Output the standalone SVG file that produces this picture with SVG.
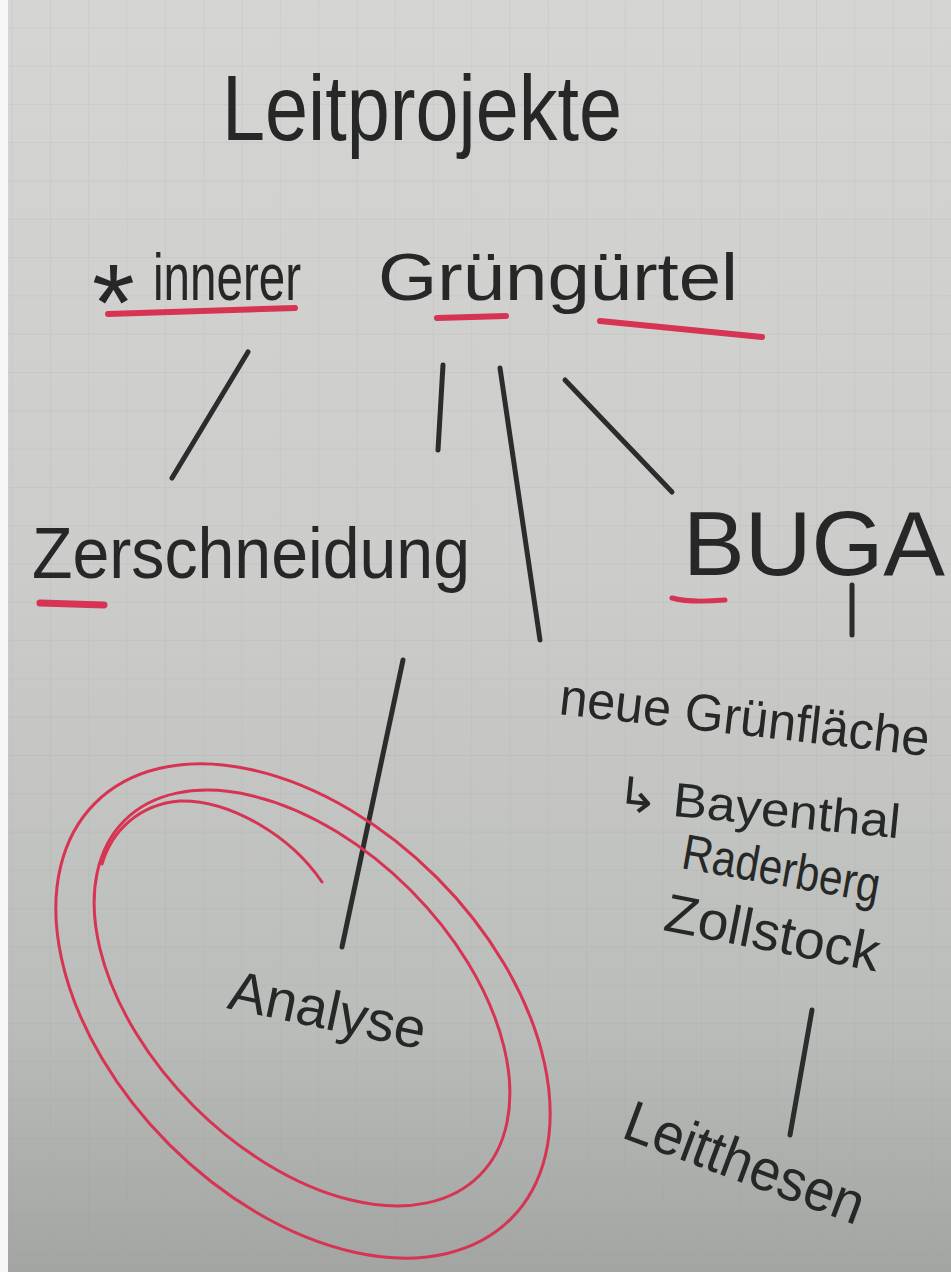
<svg xmlns="http://www.w3.org/2000/svg" width="951" height="1272" viewBox="0 0 951 1272">
<defs>
<linearGradient id="paper" x1="0" y1="0" x2="0" y2="1">
<stop offset="0" stop-color="#d5d6d3"/>
<stop offset="0.45" stop-color="#cccdca"/>
<stop offset="0.8" stop-color="#bbbdba"/>
<stop offset="1" stop-color="#a3a5a2"/>
</linearGradient>
<pattern id="grid" x="11.7" y="27.3" width="38.3" height="38.3" patternUnits="userSpaceOnUse">
<path d="M0 0H38.3M0 0V38.3" stroke="#8f928f" stroke-opacity="0.17" stroke-width="1.6" fill="none"/>
</pattern>
<style>
.ink{fill:#262828;font-family:"Liberation Sans","DejaVu Sans",sans-serif}
.line{stroke:#2b2d2d;stroke-width:5;stroke-linecap:round;fill:none}
.red{stroke:#d63452;stroke-linecap:round;fill:none}
.ul{stroke-width:6}
.loop{stroke-width:3}
</style>
</defs>
<rect width="951" height="1272" fill="url(#paper)"/>
<rect width="951" height="1272" fill="url(#grid)"/>
<rect x="0" y="0" width="8" height="1272" fill="#f7f7f7"/>

<g id="connectors">
<path class="line" d="M248,352 L172,478"/>
<path class="line" d="M443,365 L438,450"/>
<path class="line" d="M500,368 L540,640"/>
<path class="line" d="M565,380 L672,492"/>
<path class="line" d="M852,585 L852,635"/>
<path class="line" d="M403,660 L342,947"/>
<path class="line" d="M812,1010 L790,1135"/>
</g>

<g id="title">
<text class="ink" x="222" y="140" font-size="92" textLength="400" lengthAdjust="spacingAndGlyphs">Leitprojekte</text>
</g>

<g id="innerer-gruenguertel">
<text class="ink" x="92" y="340" font-size="110">*</text>
<text class="ink" x="153" y="300" font-size="66" textLength="148" lengthAdjust="spacingAndGlyphs">innerer</text>
<text class="ink" x="378" y="300" font-size="66" textLength="360" lengthAdjust="spacingAndGlyphs">Grüngürtel</text>
<path class="red ul" d="M108,314 L295,308"/>
<path class="red ul" d="M437,318 L506,316"/>
<path class="red ul" d="M600,321 L762,337"/>
</g>

<g id="zerschneidung">
<text class="ink" x="32" y="578" font-size="72" textLength="438" lengthAdjust="spacingAndGlyphs">Zerschneidung</text>
<path class="red" stroke-width="7" d="M40,603 L104,605"/>
</g>

<g id="buga">
<text class="ink" x="683" y="575" font-size="90" textLength="262" lengthAdjust="spacingAndGlyphs">BUGA</text>
<path class="red" stroke-width="5" d="M672,598 Q690,603 725,600"/>
</g>

<g id="neue-gruenflaeche">
<text class="ink" x="558" y="714" font-size="52" textLength="372" lengthAdjust="spacingAndGlyphs" transform="rotate(6.5 558 714)">neue Grünfläche</text>
<text class="ink" x="615" y="810" font-size="48" textLength="285" lengthAdjust="spacingAndGlyphs" transform="rotate(5.7 615 810)">↳ Bayenthal</text>
<text class="ink" x="680" y="868" font-size="50" textLength="200" lengthAdjust="spacingAndGlyphs" transform="rotate(10 680 868)">Raderberg</text>
<text class="ink" x="662" y="930" font-size="54" textLength="218" lengthAdjust="spacingAndGlyphs" transform="rotate(11 662 930)">Zollstock</text>
</g>

<g id="analyse">
<ellipse class="red loop" cx="303" cy="1011" rx="294" ry="189" transform="rotate(45 303 1011)"/>
<ellipse class="red loop" cx="302" cy="998" rx="251" ry="153" transform="rotate(45 302 998)"/>
<path class="red loop" d="M322,882 C290,835 230,800 180,801 C140,804 112,830 102,864"/>
<text class="ink" x="226" y="1008" font-size="56" textLength="200" lengthAdjust="spacingAndGlyphs" transform="rotate(12 226 1008)">Analyse</text>
</g>

<g id="leitthesen">
<text class="ink" x="620" y="1137" font-size="58" textLength="252" lengthAdjust="spacingAndGlyphs" transform="rotate(20.5 620 1137)">Leitthesen</text>
</g>
</svg>
